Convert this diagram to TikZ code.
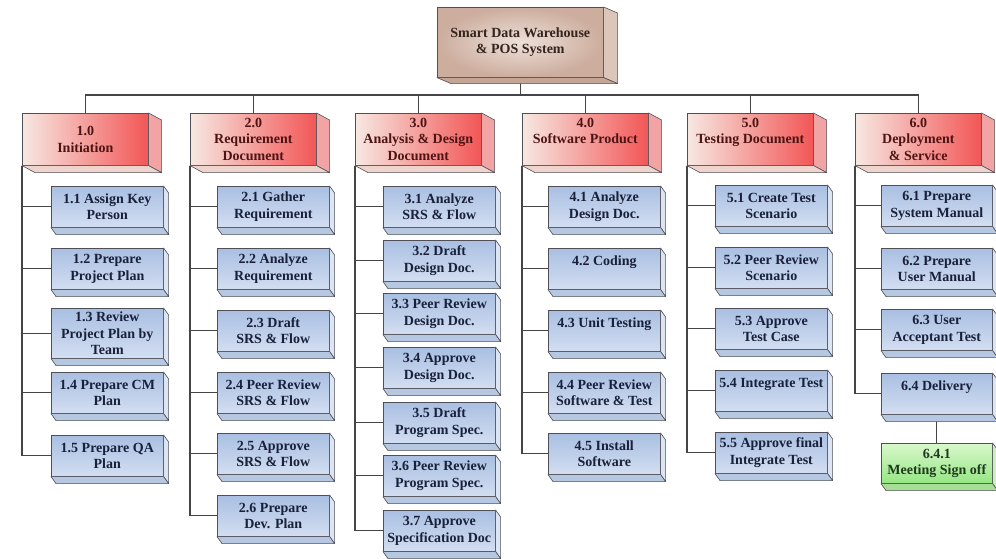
\documentclass[tikz,border=0pt]{standalone}
\usepackage{fontspec}
\setmainfont{Liberation Serif}
\usetikzlibrary{calc}
\pgfdeclarelayer{bg}
\pgfsetlayers{bg,main}
\definecolor{edge}{HTML}{4F4F55}
\definecolor{connc}{HTML}{454545}
\definecolor{rootIn}{HTML}{EEE0D8}
\definecolor{rootOut}{HTML}{CCAD9E}
\definecolor{rootSide}{HTML}{DCC6BA}
\definecolor{rootBot}{HTML}{C4A596}
\definecolor{rootTxt}{HTML}{33241E}
\definecolor{hdrL}{HTML}{F7E8E2}
\definecolor{hdrR}{HTML}{F25656}
\definecolor{hdrSide}{HTML}{F2A4A4}
\definecolor{hdrBot}{HTML}{EFD4CE}
\definecolor{hdrTxt}{HTML}{4E1414}
\definecolor{leafT}{HTML}{A9BFE2}
\definecolor{leafB}{HTML}{D3DEF1}
\definecolor{leafSide}{HTML}{DCE5F4}
\definecolor{leafBot}{HTML}{B6C7E2}
\definecolor{leafTxt}{HTML}{19203A}
\definecolor{grT}{HTML}{D9F8CC}
\definecolor{grB}{HTML}{96E684}
\definecolor{grSide}{HTML}{C9F1BB}
\definecolor{grBot}{HTML}{A6DE96}
\definecolor{grTxt}{HTML}{1F3A1F}
\tikzset{
  base/.style={draw=edge, line width=0.6pt, inner sep=0pt, align=center,
    font=\bfseries\fontsize{14}{16.5}\selectfont},
  face/.style={draw=edge, line width=0.6pt, line join=round},
  rootfront/.style={base, inner color=rootIn, outer color=rootOut, text=rootTxt},
  rootside/.style={face, fill=rootSide},
  rootbot/.style={face, fill=rootBot},
  hdrfront/.style={base, left color=hdrL, right color=hdrR, text=hdrTxt},
  hdrside/.style={face, fill=hdrSide},
  hdrbot/.style={face, fill=hdrBot},
  leaffront/.style={base, top color=leafT, bottom color=leafB, text=leafTxt},
  leafside/.style={face, fill=leafSide},
  leafbot/.style={face, fill=leafBot},
  grfront/.style={base, top color=grT, bottom color=grB, text=grTxt},
  grside/.style={face, fill=grSide},
  grbot/.style={face, fill=grBot},
  conn/.style={draw=connc, line width=1.2pt}
}
% #1 name, #2 left, #3 top, #4 width, #5 height, #6 dx, #7 dy, #8 kind, #9 text
\newcommand{\wbsbox}[9]{%
  \node[#8front, minimum width=#4pt, minimum height=#5pt, anchor=north west] (#1) at (#2,#3) {#9};
  \filldraw[#8side] (#1.north east) -- ++(#6,#7) -- ($(#1.south east)+(#6,#7)$) -- (#1.south east) -- cycle;
  \filldraw[#8bot] (#1.south west) -- (#1.south east) -- ($(#1.south east)+(#6,#7)$) -- ($(#1.south west)+(#6,#7)$) -- cycle;
}
\newcommand{\leafbox}[4]{\wbsbox{#1}{#2}{#3}{112}{41}{5}{7}{leaf}{#4}}
\newcommand{\hdrbox}[3]{\wbsbox{#1}{#2}{113}{126}{52}{13}{7}{hdr}{#3}}
\begin{document}
\begin{tikzpicture}[x=1pt,y=-1pt]
\useasboundingbox (0,0) rectangle (996,559);
% root
\wbsbox{root}{437}{7}{166}{70}{14}{6}{root}{Smart Data Warehouse\\\& POS System}
% headers
\hdrbox{h1}{22}{1.0\\Initiation}
\hdrbox{h2}{190}{2.0\\Requirement\\Document}
\hdrbox{h3}{355}{3.0\\Analysis \& Design\\Document}
\hdrbox{h4}{522}{4.0\\Software Product\\~}
\hdrbox{h5}{687}{5.0\\Testing Document\\~}
\hdrbox{h6}{855}{6.0\\Deployment\\\& Service}
% column 1
\leafbox{l11}{51}{186}{1.1 Assign Key\\Person}
\leafbox{l12}{51}{248}{1.2 Prepare\\Project Plan}
\wbsbox{l13}{51}{308}{112}{50}{5}{7}{leaf}{1.3 Review\\Project Plan by\\Team}
\leafbox{l14}{51}{372}{1.4 Prepare CM\\Plan}
\leafbox{l15}{51}{435}{1.5 Prepare QA\\Plan}
% column 2
\leafbox{l21}{217}{186}{2.1 Gather\\Requirement}
\leafbox{l22}{217}{248}{2.2 Analyze\\Requirement}
\leafbox{l23}{217}{310}{2.3 Draft\\SRS \& Flow}
\leafbox{l24}{217}{372}{2.4 Peer Review\\SRS \& Flow}
\leafbox{l25}{217}{433}{2.5 Approve\\SRS \& Flow}
\leafbox{l26}{217}{495}{2.6 Prepare\\Dev. Plan}
% column 3
\leafbox{l31}{383}{186}{3.1 Analyze\\SRS \& Flow}
\leafbox{l32}{383}{240}{3.2 Draft\\Design Doc.}
\leafbox{l33}{383}{293}{3.3 Peer Review\\Design Doc.}
\leafbox{l34}{383}{347}{3.4 Approve\\Design Doc.}
\leafbox{l35}{383}{402}{3.5 Draft\\Program Spec.}
\leafbox{l36}{383}{455}{3.6 Peer Review\\Program Spec.}
\leafbox{l37}{383}{510}{3.7 Approve\\Specification Doc}
% column 4
\leafbox{l41}{548}{186}{4.1 Analyze\\Design Doc.}
\leafbox{l42}{548}{248}{4.2 Coding\\~}
\leafbox{l43}{548}{310}{4.3 Unit Testing\\~}
\leafbox{l44}{548}{372}{4.4 Peer Review\\Software \& Test}
\leafbox{l45}{548}{433}{4.5 Install\\Software}
% column 5
\leafbox{l51}{715}{185}{5.1 Create Test\\Scenario}
\leafbox{l52}{715}{247}{5.2 Peer Review\\Scenario}
\leafbox{l53}{715}{308}{5.3 Approve\\Test Case}
\leafbox{l54}{715}{370}{5.4 Integrate Test\\~}
\leafbox{l55}{715}{432}{5.5 Approve final\\Integrate Test}
% column 6
\wbsbox{l61}{881}{185}{111}{41}{5}{7}{leaf}{6.1 Prepare\\System Manual}
\wbsbox{l62}{881}{248}{111}{41}{5}{7}{leaf}{6.2 Prepare\\User Manual}
\wbsbox{l63}{881}{309}{111}{41}{5}{7}{leaf}{6.3 User\\Acceptant Test}
\wbsbox{l64}{881}{373}{111}{41}{5}{7}{leaf}{6.4 Delivery\\~}
\wbsbox{l641}{881}{443}{111}{40}{5}{7}{gr}{6.4.1\\Meeting Sign off}
% connectors
\coordinate (busy) at (0,95);
\begin{pgfonlayer}{bg}
\draw[conn] (root.south) -- (root.south |- busy);
\draw[conn] (h1.north) -- (h1.north |- busy) -| (h6.north);
\foreach \h in {h2,h3,h4,h5}{\draw[conn] (\h.north) -- (\h.north |- busy);}
\draw[conn] (h1.south west) -- (h1.south west |- l15.west);
\foreach \c in {l11,l12,l13,l14,l15}{\draw[conn] (\c.west) -- (\c.west -| h1.south west);}
\draw[conn] (h2.south west) -- (h2.south west |- l26.west);
\foreach \c in {l21,l22,l23,l24,l25,l26}{\draw[conn] (\c.west) -- (\c.west -| h2.south west);}
\draw[conn] (h3.south west) -- (h3.south west |- l37.west);
\foreach \c in {l31,l32,l33,l34,l35,l36,l37}{\draw[conn] (\c.west) -- (\c.west -| h3.south west);}
\draw[conn] (h4.south west) -- (h4.south west |- l45.west);
\foreach \c in {l41,l42,l43,l44,l45}{\draw[conn] (\c.west) -- (\c.west -| h4.south west);}
\draw[conn] (h5.south west) -- (h5.south west |- l55.west);
\foreach \c in {l51,l52,l53,l54,l55}{\draw[conn] (\c.west) -- (\c.west -| h5.south west);}
\draw[conn] (h6.south west) -- (h6.south west |- l64.west);
\foreach \c in {l61,l62,l63,l64}{\draw[conn] (\c.west) -- (\c.west -| h6.south west);}
\draw[conn] (l64.south) -- (l641.north);
\end{pgfonlayer}
\end{tikzpicture}
\end{document}
